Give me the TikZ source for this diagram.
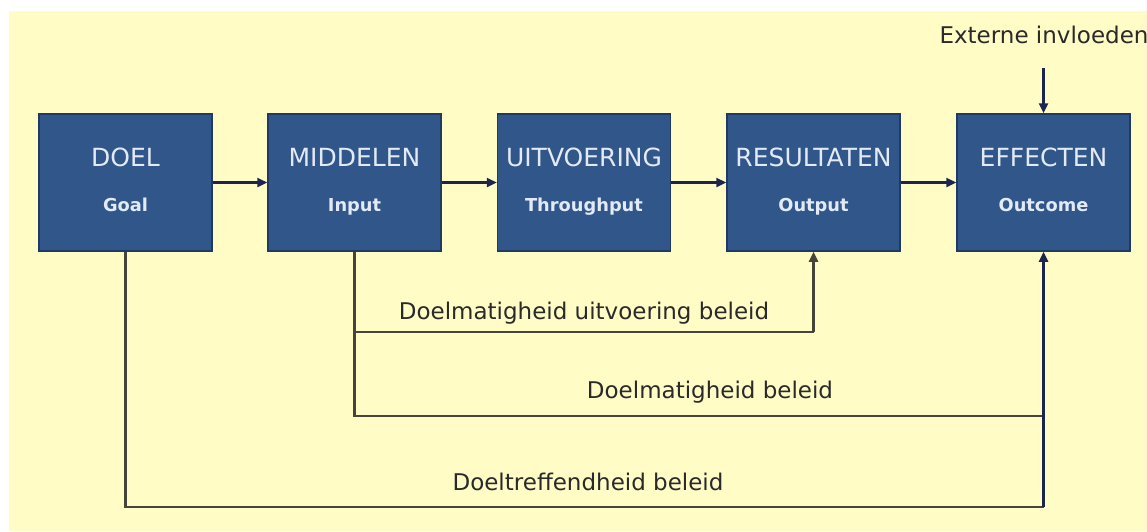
\documentclass[tikz,border=0pt]{standalone}
\usepackage{fontspec}
\setmainfont{DejaVu Sans}
\usetikzlibrary{arrows.meta}
\definecolor{paper}{HTML}{FFFCC6}
\definecolor{boxfill}{HTML}{30568A}
\definecolor{boxedge}{HTML}{1F3A66}
\definecolor{boxtext}{HTML}{E2EAF6}
\definecolor{wire}{HTML}{1C2450}
\definecolor{wiregray}{HTML}{45453C}
\definecolor{ink}{HTML}{2A2A2A}
\tikzset{
  stage/.style={draw=boxedge, line width=1.5pt, fill=boxfill, minimum width=173pt, minimum height=137pt, inner sep=0pt},
  title/.style={text=boxtext, font=\fontsize{25}{25}\selectfont, anchor=base, inner sep=0pt},
  sub/.style={text=boxtext, font=\bfseries\fontsize{17.8}{17.8}\selectfont, anchor=base, inner sep=0pt},
  caption/.style={text=ink, font=\fontsize{23}{23}\selectfont, anchor=base, inner sep=0pt},
  link/.style={draw=wire, line width=2.3pt},
  feed/.style={draw=wiregray, line width=2.3pt},
  tip/.style={-{Triangle[length=10pt,width=9pt]}}
}
\begin{document}
\begin{tikzpicture}[x=1pt,y=-1pt]
  % page and yellow backdrop
  \fill[white] (0,0) rectangle (1147,531);
  \fill[paper] (9,11) rectangle (1147,531);
  \useasboundingbox (0,0) rectangle (1147,531);

  % process stages
  \node[stage] (doel)     at (125.5,182.5) {};
  \node[stage] (middelen) at (354.5,182.5) {};
  \node[stage] (uitv)     at (584,182.5)   {};
  \node[stage] (result)   at (813.5,182.5) {};
  \node[stage] (effect)   at (1043.5,182.5) {};

  \node[title] (t1) at (125.5,166) {DOEL};
  \node[title] (t2) at (354.5,166) {MIDDELEN};
  \node[title] (t3) at (584,166)   {UITVOERING};
  \node[title] (t4) at (813.5,166) {RESULTATEN};
  \node[title] (t5) at (1043.5,166) {EFFECTEN};

  \node[sub] (s1) at (125.5,211) {Goal};
  \node[sub] (s2) at (354.5,211) {Input};
  \node[sub] (s3) at (584,211)   {Throughput};
  \node[sub] (s4) at (813.5,211) {Output};
  \node[sub] (s5) at (1043.5,211) {Outcome};

  % chain between stages
  \draw[link,tip] (doel.east) -- (middelen.west);
  \draw[link,tip] (middelen.east) -- (uitv.west);
  \draw[link,tip] (uitv.east) -- (result.west);
  \draw[link,tip] (result.east) -- (effect.west);

  % external influences
  \node[caption] (ext) at (1044,43) {Externe invloeden};
  \coordinate (extend) at (1043.5,68);
  \draw[link,tip] (extend) -- (effect.north);

  % feedback loops below the stages
  \coordinate (m1) at (354.5,332);
  \coordinate (r1) at (813.5,332);
  \coordinate (m2) at (354.5,416);
  \coordinate (e2) at (1043.5,416);
  \coordinate (d3) at (125.5,507);
  \coordinate (e3) at (1043.5,507);

  \draw[feed] (middelen.south) -- (m2) -- (e2);
  \draw[feed] (m1) -- (r1);
  \draw[feed,tip] (r1) -- (result.south);
  \draw[feed] (doel.south) -- (d3) -- (e3);
  \draw[link,tip] (e3) -- (effect.south);

  \node[caption] (c1) at (584,319) {Doelmatigheid uitvoering beleid};
  \node[caption] (c2) at (710,398) {Doelmatigheid beleid};
  \node[caption] (c3) at (588,490) {Doeltreffendheid beleid};
\end{tikzpicture}
\end{document}
